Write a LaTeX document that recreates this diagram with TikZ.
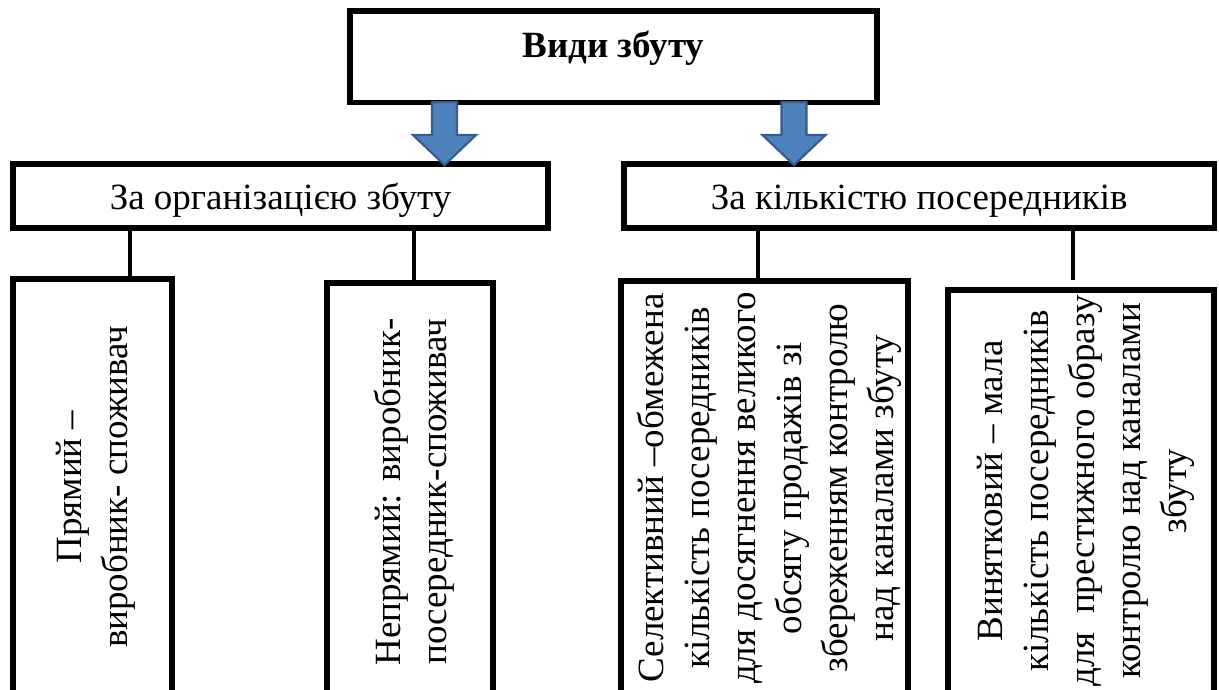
\documentclass[tikz,border=0pt]{standalone}
\usepackage{fontspec}
\setmainfont{Liberation Serif}
\definecolor{arrfill}{HTML}{4F81BD}
\definecolor{arrdraw}{HTML}{385D8A}
\begin{document}
\begin{tikzpicture}[x=1pt,y=-1pt,
  box/.style={draw=black, line width=5.5pt, inner sep=0pt, outer sep=0pt, fill=white},
  conn/.style={draw=black, line width=4.5pt},
  barrow/.style={fill=arrfill, draw=arrdraw, line width=2.2pt},
  txt/.style={font=\fontsize{37}{46}\selectfont, align=center, inner sep=0pt},
  vtxt/.style={txt, rotate=90}]
\useasboundingbox (0,0) rectangle (1219,690);
\clip (0,0) rectangle (1219,690);
% top
\node[box, txt, font=\fontsize{37}{46}\selectfont\bfseries, minimum width=527pt, minimum height=91.5pt,
      text height=25pt, text depth=23pt] (T) at (613.5,57) {Види збуту};
% second level
\node[box, txt, minimum width=535pt, minimum height=64pt, text height=35pt, text depth=8pt]
  (A) at (280.5,196) {За організацією збуту};
\node[box, txt, minimum width=590.5pt, minimum height=64pt, text height=35pt, text depth=8pt]
  (B) at (919.25,196) {За кількістю посередників};
% bottom boxes
\node[box, anchor=north, minimum width=159pt, minimum height=440pt] (C) at (92.5,279) {};
\node[box, anchor=north, minimum width=166pt, minimum height=440pt] (D) at (410,283) {};
\node[box, anchor=north, minimum width=287pt, minimum height=440pt] (E) at (764.5,281) {};
\node[box, anchor=north, minimum width=266pt, minimum height=440pt] (F) at (1081,290) {};
% texts
\node[vtxt] (Ct) at (96,487) {Прямий –\\виробник- споживач};
\node[vtxt] (Dt) at (414,492) {Непрямий: виробник-\\посередник-споживач};
\node[vtxt] (Et) at (769,488) {Селективний –обмежена\\кількість посередників\\для досягнення великого\\обсягу продажів зі\\збереженням контролю\\над каналами збуту};
\node[vtxt] (Ft) at (1086,491) {Винятковий – мала\\кількість посередників\\для\ \ престижного образу\\контролю над каналами\\збуту};
% connectors
\coordinate (xC) at (130,0);
\coordinate (xD) at (414,0);
\coordinate (xE) at (758,0);
\coordinate (fend) at (1073,280);
\draw[conn] (xC |- A.south) -- (xC |- C.north);
\draw[conn] (xD |- A.south) -- (xD |- D.north);
\draw[conn] (xE |- B.south) -- (xE |- E.north);
\draw[conn] (fend |- B.south) -- (fend);
% block arrows
\draw[barrow, shift={(444.5,102)}] (-12.5,0) -- (-12.5,33) -- (-31.5,33) -- (0,63) -- (31.5,33) -- (12.5,33) -- (12.5,0) -- cycle;
\draw[barrow, shift={(794,102)}] (-12.5,0) -- (-12.5,33) -- (-31.5,33) -- (0,63) -- (31.5,33) -- (12.5,33) -- (12.5,0) -- cycle;
\end{tikzpicture}
\end{document}
